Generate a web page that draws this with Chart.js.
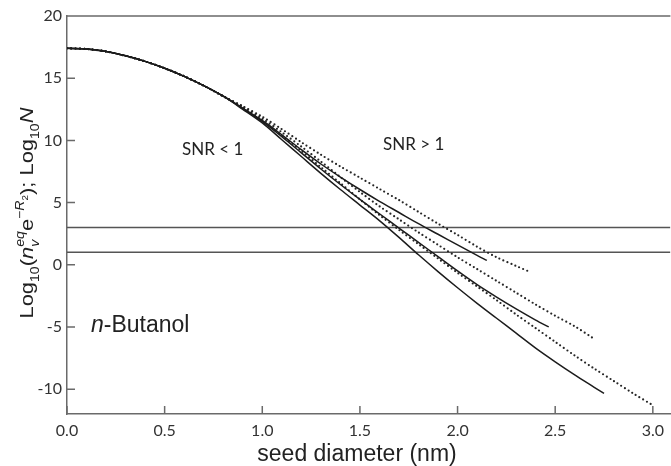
<!DOCTYPE html>
<html>
<head>
<meta charset="utf-8">
<script src="https://cdn.jsdelivr.net/npm/chart.js@4"></script>
<style>
  html, body { margin: 0; padding: 0; background: #fff; }
  #wrap { width: 671px; height: 466px; }
</style>
</head>
<body>
<div id="wrap"><canvas id="chart" width="671" height="466"></canvas></div>
<script>
/* ── Data ─────────────────────────────────────────────────── */
// shared start of all six curves, seed diameter in nm / log10 value
const trunkD   = [0, 0.1, 0.2, 0.3, 0.4, 0.5, 0.6, 0.7, 0.8];
const trunkLog = [17.4, 17.35, 17.15, 16.8, 16.35, 15.8, 15.15, 14.4, 13.55];

// solid curves
const dSolidA   = [0.9, 1.0, 1.1, 1.2, 1.3, 1.4, 1.5, 1.6, 1.7, 1.8, 1.9, 2.0, 2.1, 2.2, 2.3, 2.4, 2.5, 2.6, 2.7, 2.75];
const logSolidA = [12.5, 11.4, 10.05, 8.7, 7.35, 6.05, 4.8, 3.55, 2.2, 0.8, -0.55, -1.85, -3.1, -4.3, -5.5, -6.7, -7.8, -8.85, -9.85, -10.35];

const dSolidB   = [0.9, 1.0, 1.1, 1.2, 1.3, 1.4, 1.5, 1.6, 1.7, 1.8, 1.9, 2.0, 2.1, 2.2, 2.3, 2.4, 2.467];
const logSolidB = [12.55, 11.5, 10.3, 9.0, 7.7, 6.45, 5.25, 4.1, 2.95, 1.8, 0.65, -0.5, -1.6, -2.6, -3.55, -4.45, -5.0];

const dSolidC   = [0.9, 1.0, 1.1, 1.2, 1.3, 1.4, 1.5, 1.6, 1.7, 1.8, 1.9, 2.0, 2.1, 2.15];
const logSolidC = [12.6, 11.6, 10.45, 9.25, 8.1, 7.05, 6.05, 5.1, 4.2, 3.3, 2.45, 1.6, 0.75, 0.35];

// dotted curves
const dDotD   = [0.9, 1.0, 1.1, 1.2, 1.3, 1.4, 1.5, 1.6, 1.7, 1.8, 1.9, 2.0, 2.1, 2.2, 2.3, 2.374];
const logDotD = [12.75, 11.9, 10.9, 9.85, 8.85, 7.9, 7.0, 6.1, 5.2, 4.25, 3.3, 2.4, 1.45, 0.6, -0.1, -0.6];

const dDotE   = [0.9, 1.0, 1.1, 1.2, 1.3, 1.4, 1.5, 1.6, 1.7, 1.8, 1.9, 2.0, 2.1, 2.2, 2.3, 2.4, 2.5, 2.6, 2.692];
const logDotE = [12.7, 11.75, 10.65, 9.5, 8.3, 7.05, 5.85, 4.7, 3.65, 2.6, 1.6, 0.6, -0.35, -1.3, -2.25, -3.2, -4.1, -4.95, -5.88];

const dDotF   = [0.9, 1.0, 1.1, 1.2, 1.3, 1.4, 1.5, 1.6, 1.7, 1.8, 1.9, 2.0, 2.1, 2.2, 2.3, 2.4, 2.5, 2.6, 2.7, 2.8, 2.9, 3.0];
const logDotF = [12.65, 11.6, 10.4, 9.15, 7.85, 6.55, 5.25, 4.0, 2.8, 1.65, 0.5, -0.65, -1.75, -2.85, -4.0, -5.1, -6.2, -7.3, -8.35, -9.35, -10.35, -11.3];

// horizontal reference levels (log10 N)
const levels = [3, 1];

const xTicks = [0, 0.5, 1.0, 1.5, 2.0, 2.5, 3.0];
const yTicks = [-10, -5, 0, 5, 10, 15, 20];

/* ── Helpers ──────────────────────────────────────────────── */
function pts(xs, ys) {
  const d = trunkD.concat(xs), v = trunkLog.concat(ys);
  return d.map((x, i) => ({ x, y: v[i] }));
}

function solid(xs, ys) {
  return { data: pts(xs, ys), borderColor: '#1c1c1c', borderWidth: 1.5, pointRadius: 0, tension: 0.3 };
}

function dotted(xs, ys) {
  return {
    data: pts(xs, ys), borderColor: '#262626', borderWidth: 2.2, pointRadius: 0, tension: 0.3,
    borderDash: [0, 4.3], borderCapStyle: 'round'
  };
}

function onTick(v, list) {
  const r = Math.round(v * 10) / 10;
  return Math.abs(v - r) < 1e-6 && list.includes(r) ? r : null;
}

const X_MAX = 3.09;

const datasets = [
  solid(dSolidA, logSolidA), solid(dSolidB, logSolidB), solid(dSolidC, logSolidC),
  dotted(dDotD, logDotD), dotted(dDotE, logDotE), dotted(dDotF, logDotF),
  ...levels.map(l => ({
    data: [{ x: 0, y: l }, { x: X_MAX, y: l }],
    borderColor: '#555', borderWidth: 1.5, pointRadius: 0
  }))
];

/* ── Frame, inward ticks and labels ───────────────────────── */
const decor = {
  id: 'decor',
  afterDraw(chart) {
    const { ctx, chartArea: a, scales: { x, y } } = chart;
    ctx.save();
    ctx.strokeStyle = '#6a6a6a';
    ctx.lineWidth = 1.5;
    ctx.beginPath();
    ctx.moveTo(a.left, a.top); ctx.lineTo(a.right, a.top);
    xTicks.forEach(v => { const px = x.getPixelForValue(v); ctx.moveTo(px, a.bottom); ctx.lineTo(px, a.bottom - 8); });
    yTicks.forEach(v => { const py = y.getPixelForValue(v); ctx.moveTo(a.left, py); ctx.lineTo(a.left + 8, py); });
    ctx.stroke();

    ctx.fillStyle = '#222';
    ctx.textBaseline = 'middle';
    ctx.textAlign = 'left';
    ctx.font = '17px Lato, "Liberation Sans", sans-serif';
    ctx.fillText('SNR < 1', 182, 150);
    ctx.fillText('SNR > 1', 383, 145);

    ctx.font = 'italic 23px "Liberation Sans", Arial, sans-serif';
    ctx.fillText('n', 91, 326);
    const nw = ctx.measureText('n').width;
    ctx.font = '23px "Liberation Sans", Arial, sans-serif';
    ctx.fillText('-Butanol', 91 + nw, 326);

    ctx.textAlign = 'center';
    ctx.font = '23px "Liberation Sans", Arial, sans-serif';
    ctx.fillText('seed diameter (nm)', 357, 455);

    // rotated y title with sub/superscripts
    const S = 19, F = '"Liberation Sans", Arial, sans-serif';
    const segs = [
      { t: 'Log', f: `${S}px ${F}`, dy: 0 },
      { t: '10', f: `${S * 0.65}px ${F}`, dy: S * 0.3 },
      { t: '(', f: `${S}px ${F}`, dy: 0 },
      { t: 'n', f: `italic ${S}px ${F}`, dy: 0 },
      { t: 'v', f: `italic ${S * 0.65}px ${F}`, dy: S * 0.3, stack: true },
      { t: 'eq', f: `italic ${S * 0.65}px ${F}`, dy: -S * 0.45 },
      { t: 'e', f: `${S}px ${F}`, dy: 0 },
      { t: '\u2212', f: `${S * 0.65}px ${F}`, dy: -S * 0.45 },
      { t: 'R', f: `italic ${S * 0.65}px ${F}`, dy: -S * 0.45 },
      { t: '2', f: `${S * 0.45}px ${F}`, dy: -S * 0.28 },
      { t: ')', f: `${S}px ${F}`, dy: 0 },
      { t: '; Log', f: `${S}px ${F}`, dy: 0 },
      { t: '10', f: `${S * 0.65}px ${F}`, dy: S * 0.3 },
      { t: 'N', f: `italic ${S}px ${F}`, dy: 0 }
    ];
    let total = 0;
    segs.forEach(s => { ctx.font = s.f; s.w = ctx.measureText(s.t).width; });
    segs.forEach((s, i) => {
      if (s.stack) return;
      const prev = segs[i - 1];
      total += (prev && prev.stack) ? Math.max(s.w, prev.w) : s.w;
    });
    ctx.translate(33, 213);
    ctx.rotate(-Math.PI / 2);
    ctx.scale(211 / total, 1);
    ctx.textAlign = 'left';
    ctx.textBaseline = 'alphabetic';
    let cx = -total / 2;
    segs.forEach((s, i) => {
      ctx.font = s.f;
      ctx.fillText(s.t, cx, s.dy);
      if (s.stack) return;
      const prev = segs[i - 1];
      cx += (prev && prev.stack) ? Math.max(s.w, prev.w) : s.w;
    });
    ctx.restore();
  }
};

/* ── Chart ────────────────────────────────────────────────── */
new Chart(document.getElementById('chart'), {
  type: 'scatter',
  data: { datasets: datasets.map(d => Object.assign({ showLine: true, fill: false }, d)) },
  options: {
    responsive: false,
    animation: false,
    layout: { padding: { top: 16, right: 0, left: 0, bottom: 0 } },
    plugins: { legend: { display: false }, tooltip: { enabled: false } },
    scales: {
      x: {
        type: 'linear', min: 0, max: X_MAX,
        afterFit: s => { s.height = 52; },
        afterBuildTicks: s => { s.ticks = xTicks.map(v => ({ value: v })); },
        grid: { display: false, drawTicks: false },
        border: { display: true, color: '#6a6a6a', width: 1.5 },
        ticks: {
          padding: 7, color: '#333', maxRotation: 0, autoSkip: false,
          font: { family: 'Lato, "Liberation Sans", sans-serif', size: 16 },
          callback: v => { const r = onTick(v, xTicks); return r === null ? '' : r.toFixed(1); }
        }
      },
      y: {
        type: 'linear', min: -12, max: 20,
        afterFit: s => { s.width = 67; },
        afterBuildTicks: s => { s.ticks = yTicks.map(v => ({ value: v })); },
        grid: { display: false, drawTicks: false },
        border: { display: true, color: '#6a6a6a', width: 1.5 },
        ticks: {
          padding: 5, color: '#333', autoSkip: false,
          font: { family: 'Lato, "Liberation Sans", sans-serif', size: 16 },
          callback: v => { const r = onTick(v, yTicks); return r === null ? '' : String(r); }
        }
      }
    }
  },
  plugins: [decor]
});
</script>
</body>
</html>
